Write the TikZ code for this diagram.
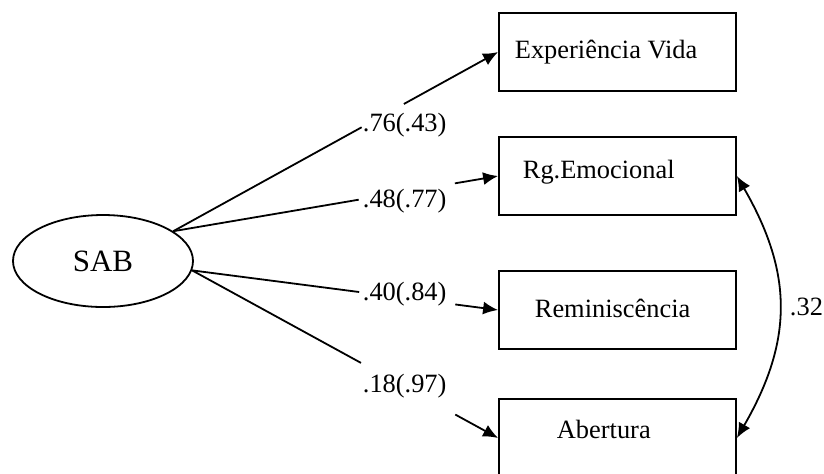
\documentclass[tikz,border=0pt]{standalone}
\usepackage{fontspec}
\setmainfont{Liberation Serif}
\usetikzlibrary{arrows.meta,shapes.geometric}
\tikzset{
  varbox/.style={draw,minimum width=118.5pt,minimum height=39pt,inner sep=0pt},
  loadlabel/.style={anchor=base west,inner sep=0pt,font=\fontsize{13.2}{15}\selectfont},
}
\newcommand{\sabloading}[4]{%
  \path (#1) -- (#2.west) coordinate[pos=#3] (#2a) coordinate[pos=#4] (#2b);%
  \draw (#1) -- (#2a);%
  \draw[-{Latex[length=7.5pt,width=6.5pt]}] (#2b) -- (#2.west);%
}

\begin{document}
\begin{tikzpicture}[x=0.5pt,y=-0.5pt,line width=0.9pt]
  \useasboundingbox (0,0) rectangle (824,473);
  \node[ellipse,draw,minimum width=90pt,minimum height=46pt,inner sep=0pt,
        font=\fontsize{15.5}{18}\selectfont] (sab) at (103,261) {SAB};
  \node[varbox] (exp) at (617.5,52) {};
  \node[varbox] (rg) at (617.5,176) {};
  \node[varbox] (rem) at (617.5,310) {};
  \node[varbox] (ab) at (617.5,438) {};
  \node[loadlabel] (expt) at (514,58) {Experiência Vida};
  \node[loadlabel] (rgt) at (522,178) {Rg.Emocional};
  \node[loadlabel] (remt) at (534,317) {Reminiscência};
  \node[loadlabel] (abt) at (556,438) {Abertura};
  \node[loadlabel] (l1) at (362,131) {.76(.43)};
  \node[loadlabel] (l2) at (362,207) {.48(.77)};
  \node[loadlabel] (l3) at (362,300) {.40(.84)};
  \node[loadlabel] (l4) at (362,392) {.18(.97)};
  \sabloading{sab.23}{exp}{0.58}{0.71}
  \sabloading{sab.23}{rg}{0.571}{0.867}
  \sabloading{sab.-6}{rem}{0.546}{0.86}
  \sabloading{sab.-6}{ab}{0.552}{0.86}
  % correlation between residuals
  \draw[{Latex[length=7.5pt,width=6.5pt]}-{Latex[length=7.5pt,width=6.5pt]}]
    (rg.east) to[out=-60,in=60,looseness=1.1] node[loadlabel,pos=0.5,xshift=5pt,anchor=west] (lc) {.32} (ab.east);
\end{tikzpicture}
\end{document}
